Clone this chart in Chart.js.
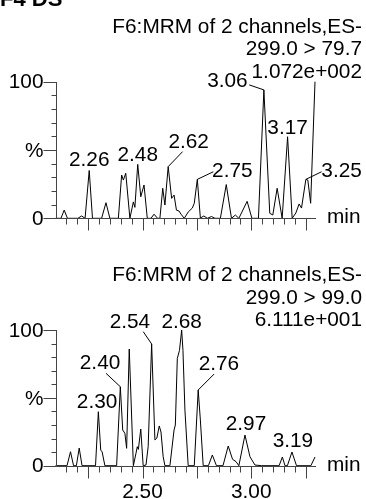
<!DOCTYPE html>
<html><head><meta charset="utf-8">
<script src="https://cdn.jsdelivr.net/npm/chart.js@4.4.0/dist/chart.umd.min.js"></script>
<style>
html,body{margin:0;padding:0;background:#fff;width:366px;height:499px;overflow:hidden;}
canvas{position:absolute;left:0;display:block;}
</style></head><body>
<canvas id="c1" width="366" height="250" style="top:0px"></canvas>
<canvas id="c2" width="366" height="249" style="top:250px"></canvas>
<script>
// ---------- DATA ----------
const xMin = 2.10, xMax = 3.293;
const xMinorTicks = [2.15,2.20,2.30,2.35,2.40,2.45,2.55,2.60,2.65,2.70,2.80,2.85,2.90,2.95,3.05,3.10,3.15,3.20];
const xMajorTicks = [2.25,2.50,2.75,3.00,3.25];
const xTickLabelValues = [2.50,3.00];
const xTickLabels = ['2.50','3.00'];
const yTicks = [0,10,20,30,40,50,60,70,80,90,100];
const yLabelValues = [0,50,100];
const yLabels = ['0','%','100'];

// channel 1 : 299.0 > 79.7
const topTimes = [2.100,2.125,2.140,2.155,2.203,2.220,2.236,2.255,2.270,2.312,2.332,2.350,2.389,2.404,2.412,2.423,2.442,2.458,2.465,2.478,2.492,2.507,2.522,2.539,2.553,2.569,2.580,2.593,2.603,2.618,2.634,2.645,2.656,2.668,2.677,2.692,2.710,2.729,2.738,2.752,2.766,2.782,2.798,2.817,2.833,2.858,2.885,2.909,2.927,2.943,2.981,3.003,3.033,3.058,3.085,3.099,3.119,3.142,3.167,3.188,3.205,3.220,3.231,3.251,3.260,3.273,3.293];
const topIntensity = [0,0,6,0,0,1.7,0,35,0,0,11.4,0,0,31.7,28,33,0,12,8,39.5,15.8,24.4,0,0,3,0,0,22,9.7,37.8,14.6,17,6,5.3,3,0,4.6,7.5,11,28.5,0.2,1.7,0,1.3,0,0,24.7,0,2.4,0,12.4,0,0,94,3.7,2.4,22,0,59.7,0,3.9,10.5,7.5,28.5,28,11,100];
const topPeakText = ['2.26','2.48','2.62','2.75','3.06','3.17','3.25'];
const topPeakTimes = [2.255,2.478,2.618,2.752,3.058,3.167,3.251];
const topPeakIntensity = [35,39.5,37.8,28.5,94,59.7,28.5];
const topHeader = ['F6:MRM of 2 channels,ES-','299.0 > 79.7','1.072e+002'];

// channel 2 : 299.0 > 99.0
const botTimes = [2.100,2.153,2.169,2.183,2.196,2.209,2.222,2.284,2.297,2.308,2.314,2.327,2.381,2.398,2.409,2.419,2.427,2.439,2.458,2.470,2.476,2.481,2.492,2.503,2.516,2.526,2.542,2.557,2.566,2.577,2.585,2.595,2.603,2.626,2.645,2.651,2.660,2.670,2.680,2.686,2.695,2.710,2.738,2.756,2.766,2.779,2.803,2.821,2.840,2.870,2.894,2.914,2.930,2.943,2.971,2.994,3.017,3.048,3.128,3.143,3.155,3.166,3.187,3.208,3.274,3.293];
const botIntensity = [0,0,10.3,0,0,13,0,0,39.8,11.3,10.5,0,0,58.2,26.3,23.9,12.8,86,0,9.1,14,12,27,0,0.5,14,89.7,19,20.4,29.3,24.8,6.6,0,0,26.3,30,79,85,100,85,41,0,0,55.8,33.7,0,0,7.9,0,0,14.5,4.7,3,0,22.6,6.6,0.5,0,0,6.4,0,0,10.1,0,0,6.4];
const botPeakText = ['2.30','2.40','2.54','2.68','2.76','2.97','3.19'];
const botPeakTimes = [2.297,2.398,2.542,2.680,2.756,2.971,3.187];
const botPeakIntensity = [39.8,58.2,89.7,100,55.8,22.6,10.1];
const botHeader = ['F6:MRM of 2 channels,ES-','299.0 > 99.0','6.111e+001'];

// ---------- LAYOUT / STYLE ----------
const FONT = '20.8px "Liberation Sans", Arial, Helvetica, sans-serif';
const AXIS_COLOR = '#444';
// label offsets relative to the peak pixel: [dx centre, dy baseline, leader start] (null = no leader)
const topLabelLayout = [[0,-4,null],[0,-3.6,null],[20.5,-18.4,[14.4,-15]],[35,-2.6,[16,-7.6]],[-36.5,-2.7,[-14.7,-5]],[0,-2.7,null],[35.7,-2.6,[15.7,-7.6]]];
const botLabelLayout = [[-1.3,-3.4,null],[-20.3,-17.4,[-14.3,-13.4]],[-21.7,-15.7,[-8.4,-12.3]],[0,-1.7,null],[20.7,-20,[16,-16]],[1,-5,null],[1,-5.3,null]];

function panelPlugin(cfg){
  return {
    id:'panel'+cfg.id,
    afterDraw(chart){
      const ctx = chart.ctx, xs = chart.scales.x, ys = chart.scales.y;
      const a = chart.chartArea;
      ctx.save();
      ctx.strokeStyle = AXIS_COLOR; ctx.lineWidth = 1;
      const y0 = Math.round(ys.getPixelForValue(0))+0.5;
      const xL = Math.round(a.left)+0.5;
      // axes
      ctx.beginPath();
      ctx.moveTo(xL, Math.round(ys.getPixelForValue(100))); ctx.lineTo(xL, y0);
      ctx.lineTo(Math.round(a.right)+1, y0);
      ctx.stroke();
      // x ticks
      ctx.beginPath();
      xMinorTicks.forEach(v=>{const px=Math.round(xs.getPixelForValue(v))+0.5; ctx.moveTo(px,y0); ctx.lineTo(px,y0+6);});
      xMajorTicks.forEach(v=>{const px=Math.round(xs.getPixelForValue(v))+0.5; ctx.moveTo(px,y0); ctx.lineTo(px,y0+12);});
      // y ticks
      yTicks.forEach(v=>{const py=Math.round(ys.getPixelForValue(v))+0.5; const len = yLabelValues.includes(v)?13:5; ctx.moveTo(xL,py); ctx.lineTo(xL-len,py);});
      ctx.stroke();
      ctx.fillStyle = '#000'; ctx.font = FONT;
      // y labels
      ctx.textAlign='right'; ctx.textBaseline='middle';
      yLabelValues.forEach((v,i)=>{ctx.fillText(yLabels[i], xL-13, ys.getPixelForValue(v)+1);});
      // x labels
      if (cfg.xLabels){
        ctx.textAlign='center'; ctx.textBaseline='alphabetic';
        xTickLabelValues.forEach((v,i)=>{ctx.fillText(xTickLabels[i], xs.getPixelForValue(v), y0+31);});
      }
      // axis title
      ctx.textAlign='left'; ctx.textBaseline='alphabetic';
      ctx.fillText('min', 327, y0+4.5);
      // header
      ctx.textAlign='right';
      const hb = [-49,-26.5,-4];
      cfg.header.forEach((t,i)=>ctx.fillText(t, 362, a.top+hb[i]));
      // peak labels
      ctx.textAlign='center';
      ctx.strokeStyle='#000';
      cfg.peakText.forEach((t,i)=>{
        const px = xs.getPixelForValue(cfg.peakT[i]), py = ys.getPixelForValue(cfg.peakV[i]);
        const L = cfg.layout[i];
        ctx.fillText(t, px+L[0], py+L[1]);
        if (L[2]){ ctx.beginPath(); ctx.moveTo(px+L[2][0], py+L[2][1]); ctx.lineTo(px, py); ctx.stroke(); }
      });
      ctx.restore();
    }
  };
}

function makePanel(id, canvasH, plotTop, plotBottom, times, vals, cfg){
  const data = times.map((t,i)=>({x:t, y:vals[i]}));
  return new Chart(document.getElementById(id), {
    type:'line',
    data:{datasets:[{data, borderColor:'#000', borderWidth:1, pointRadius:0, tension:0, fill:false, clip:2}]},
    options:{
      responsive:false, animation:false, devicePixelRatio:1,
      layout:{padding:{left:55.5, right:366-315, top:plotTop, bottom:canvasH-plotBottom}},
      plugins:{legend:{display:false}, tooltip:{enabled:false}},
      scales:{
        x:{type:'linear', min:xMin, max:xMax, display:false},
        y:{type:'linear', min:0, max:100, display:false}
      }
    },
    plugins:[panelPlugin(Object.assign({id}, cfg))]
  });
}

makePanel('c1', 250, 81.7, 218.3, topTimes, topIntensity,
  {xLabels:false, header:topHeader, peakText:topPeakText, peakT:topPeakTimes, peakV:topPeakIntensity, layout:topLabelLayout});
makePanel('c2', 249, 80, 215.7, botTimes, botIntensity,
  {xLabels:true, header:botHeader, peakText:botPeakText, peakT:botPeakTimes, peakV:botPeakIntensity, layout:botLabelLayout});

// partially visible sample title at the very top edge
(function(){
  const ctx = document.getElementById('c1').getContext('2d');
  ctx.save(); ctx.fillStyle='#000'; ctx.font='bold 22px "Liberation Sans", Arial, sans-serif';
  ctx.textAlign='left'; ctx.textBaseline='alphabetic';
  ctx.fillText('F4 DS', 0, 6);
  ctx.restore();
})();
</script>
</body></html>
